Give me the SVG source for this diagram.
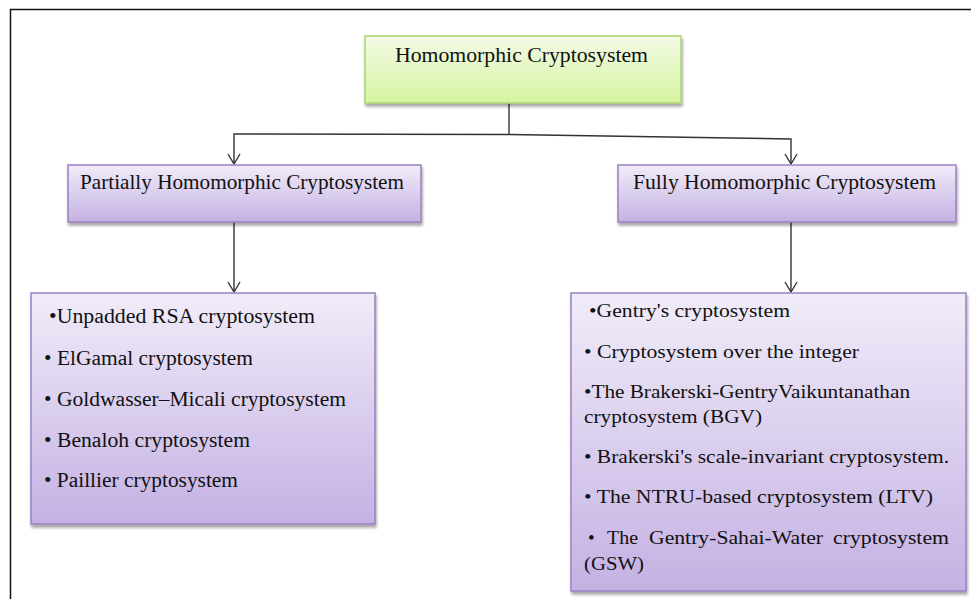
<svg xmlns="http://www.w3.org/2000/svg" width="971" height="599" viewBox="0 0 971 599">
<defs>
<linearGradient id="gGreen" x1="0" y1="0" x2="0" y2="1">
<stop offset="0" stop-color="#f3fae6"/>
<stop offset="1" stop-color="#d6f5a0"/>
</linearGradient>
<linearGradient id="gPurple" x1="0" y1="0" x2="0" y2="1">
<stop offset="0" stop-color="#f1ecf9"/>
<stop offset="1" stop-color="#c4b1e3"/>
</linearGradient>
<filter id="sh" x="-10%" y="-10%" width="120%" height="130%">
<feGaussianBlur in="SourceAlpha" stdDeviation="1.5"/>
<feOffset dx="1" dy="3" result="b"/>
<feComponentTransfer><feFuncA type="linear" slope="0.35"/></feComponentTransfer>
<feMerge><feMergeNode/><feMergeNode in="SourceGraphic"/></feMerge>
</filter>
<marker id="arr" markerWidth="12" markerHeight="14" refX="11" refY="7" orient="auto-start-reverse" markerUnits="userSpaceOnUse" viewBox="0 0 12 14">
<path d="M1,1 L11,7 L1,13" fill="none" stroke="#333" stroke-width="1.4"/>
</marker>
</defs>
<style>
.t{font-family:"Liberation Serif","Times New Roman",serif;fill:#111;}
.h{font-size:21px;}
.l{font-size:20px;}
.r{font-size:19px;}
.c{fill:none;stroke:#333;stroke-width:1.4;}
</style>
<rect x="0" y="0" width="971" height="599" fill="#fff"/>
<rect x="10.5" y="9.5" width="990" height="620" fill="none" stroke="#111" stroke-width="1.5"/>

<g id="connectors">
<path class="c" d="M509,103 L509,134.5"/>
<path class="c" d="M234,164 L234,134 L509,134.5 L791,139 L791,164" marker-start="url(#arr)" marker-end="url(#arr)"/>
<path class="c" d="M234,222 L234,292" marker-end="url(#arr)"/>
<path class="c" d="M791,222 L791,292" marker-end="url(#arr)"/>
</g>

<g id="root">
<rect x="365" y="36" width="316" height="67" fill="url(#gGreen)" stroke="#a9d36f" stroke-width="1.5" filter="url(#sh)"/>
<text class="t h" x="395" y="62" textLength="253" lengthAdjust="spacingAndGlyphs">Homomorphic Cryptosystem</text>
</g>

<g id="partial">
<rect x="68" y="165" width="353" height="57" fill="url(#gPurple)" stroke="#9a80c4" stroke-width="1.5" filter="url(#sh)"/>
<text class="t h" x="80" y="189" textLength="324" lengthAdjust="spacingAndGlyphs">Partially Homomorphic Cryptosystem</text>
</g>

<g id="fully">
<rect x="618" y="165" width="338" height="57" fill="url(#gPurple)" stroke="#9a80c4" stroke-width="1.5" filter="url(#sh)"/>
<text class="t h" x="633" y="189" textLength="303" lengthAdjust="spacingAndGlyphs">Fully Homomorphic Cryptosystem</text>
</g>

<g id="partial-list">
<rect x="31" y="293" width="344" height="231" fill="url(#gPurple)" stroke="#9a80c4" stroke-width="1.5" filter="url(#sh)"/>
<text class="t l" x="49" y="323" textLength="266" lengthAdjust="spacingAndGlyphs">•Unpadded RSA cryptosystem</text>
<text class="t l" x="44" y="365" textLength="209" lengthAdjust="spacingAndGlyphs">• ElGamal cryptosystem</text>
<text class="t l" x="44" y="406" textLength="302" lengthAdjust="spacingAndGlyphs">• Goldwasser–Micali cryptosystem</text>
<text class="t l" x="44" y="447" textLength="206" lengthAdjust="spacingAndGlyphs">• Benaloh cryptosystem</text>
<text class="t l" x="44" y="487" textLength="194" lengthAdjust="spacingAndGlyphs">• Paillier cryptosystem</text>
</g>

<g id="fully-list">
<rect x="571" y="293" width="395" height="298" fill="url(#gPurple)" stroke="#9a80c4" stroke-width="1.5" filter="url(#sh)"/>
<text class="t r" x="589" y="317" textLength="201" lengthAdjust="spacingAndGlyphs">•Gentry's cryptosystem</text>
<text class="t r" x="584" y="358" textLength="275" lengthAdjust="spacingAndGlyphs">• Cryptosystem over the integer</text>
<text class="t r" x="584" y="398" textLength="326" lengthAdjust="spacingAndGlyphs">•The Brakerski-GentryVaikuntanathan</text>
<text class="t r" x="584" y="423" textLength="178" lengthAdjust="spacingAndGlyphs">cryptosystem (BGV)</text>
<text class="t r" x="584" y="463" textLength="365" lengthAdjust="spacingAndGlyphs">• Brakerski's scale-invariant cryptosystem.</text>
<text class="t r" x="584" y="503" textLength="349" lengthAdjust="spacingAndGlyphs">• The NTRU-based cryptosystem (LTV)</text>
<text class="t r" y="544"><tspan x="588">•</tspan><tspan x="607" textLength="31" lengthAdjust="spacingAndGlyphs">The</tspan><tspan x="649" textLength="174" lengthAdjust="spacingAndGlyphs">Gentry-Sahai-Water</tspan><tspan x="833" textLength="116" lengthAdjust="spacingAndGlyphs">cryptosystem</tspan></text>
<text class="t r" x="584" y="570" textLength="60" lengthAdjust="spacingAndGlyphs">(GSW)</text>
</g>
</svg>
